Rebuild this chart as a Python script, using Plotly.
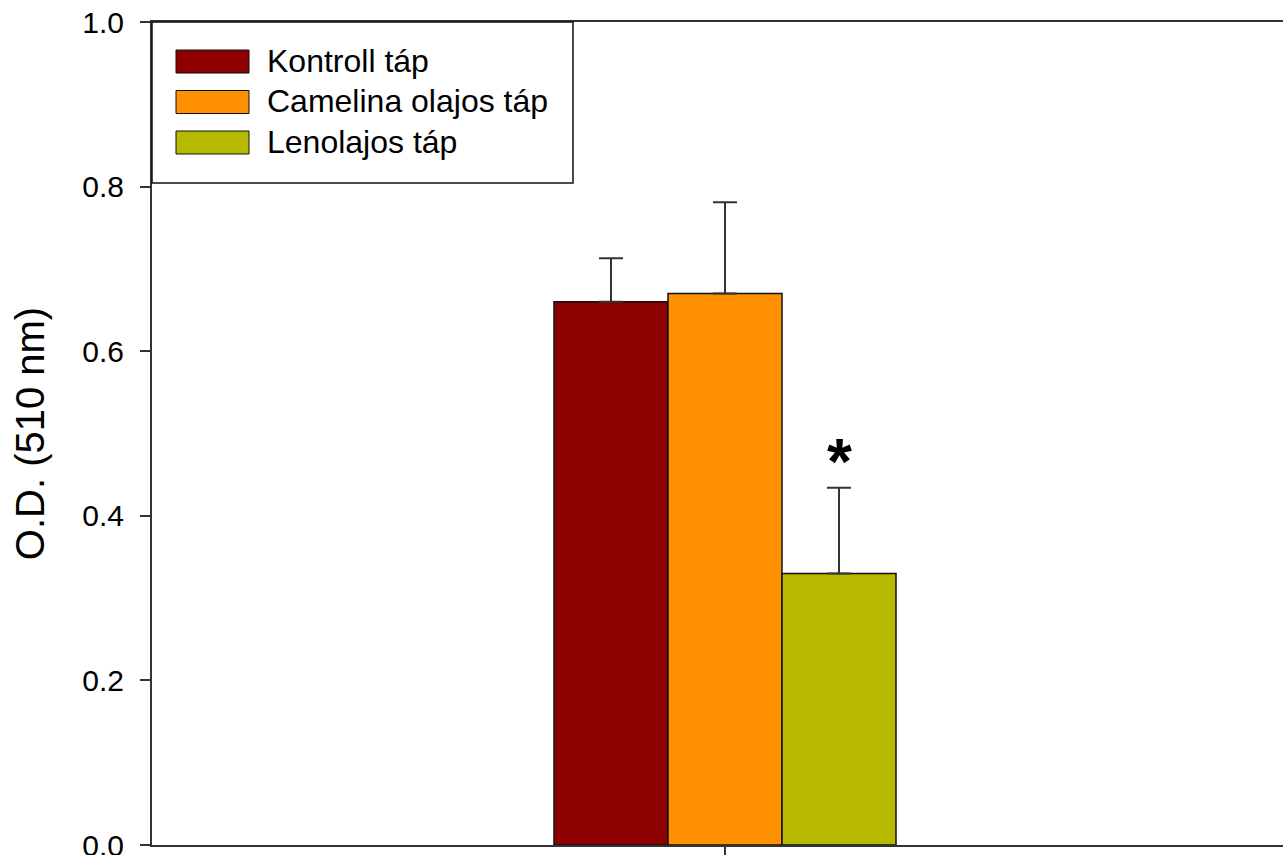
import plotly.graph_objects as go

# --- data -------------------------------------------------------------
series_names = ["Kontroll táp", "Camelina olajos táp", "Lenolajos táp"]
series_values = [0.66, 0.67, 0.33]
series_errors = [0.053, 0.111, 0.104]
series_colors = ["#8e0000", "#ff9100", "#b7b800"]
group_x = [0]
y_ticks = [0.0, 0.2, 0.4, 0.6, 0.8, 1.0]
significant = [False, False, True]

# --- layout geometry (pixels) -----------------------------------------
W, H = 1283, 855
M_L, M_R, M_T, M_B = 152, 0, 22, 10
PW, PH = W - M_L - M_R, H - M_T - M_B
BARGAP = 0.4
FONT = "Liberation Sans, Arial, sans-serif"

unit_px = 342 / (1 - BARGAP)       # pixels per x unit
x_range = [-(725 - M_L) / unit_px, (W - M_R - 725) / unit_px]


def px_x(p):
    return (p - M_L) / PW


def px_y(p):
    return (H - M_B - p) / PH


fig = go.Figure()
for name, val, err, col in zip(series_names, series_values, series_errors, series_colors):
    fig.add_trace(go.Bar(
        x=group_x, y=[val], name=name,
        marker=dict(color=col, line=dict(color="#111", width=1.5)),
        error_y=dict(type="data", symmetric=False, array=[err], arrayminus=[0],
                     color="#333", thickness=2, width=12),
        showlegend=False,
    ))

# significance marks above the error bars
n = len(series_names)
slot = (1 - BARGAP) / n
for i, (val, err, sig) in enumerate(zip(series_values, series_errors, significant)):
    if sig:
        fig.add_annotation(
            x=group_x[0] + (i - (n - 1) / 2) * slot, y=val + err,
            xref="x", yref="y", text="<b>*</b>", showarrow=False,
            yanchor="bottom", yshift=-12,
            font=dict(family=FONT, size=64, color="black"),
        )

# legend box with wide swatches
shapes = [dict(type="rect", xref="paper", yref="paper",
               x0=px_x(152), x1=px_x(573), y0=px_y(183), y1=px_y(22),
               line=dict(color="#111", width=1.5), fillcolor="white", layer="above")]
for i, (name, col) in enumerate(zip(series_names, series_colors)):
    cy = 61.5 + 40.5 * i
    shapes.append(dict(type="rect", xref="paper", yref="paper",
                       x0=px_x(176), x1=px_x(249), y0=px_y(cy + 11.5), y1=px_y(cy - 11.5),
                       line=dict(color="#111", width=1), fillcolor=col, layer="above"))
    fig.add_annotation(x=px_x(265), y=px_y(cy - 1), xref="paper", yref="paper",
                       text=name, showarrow=False, xanchor="left", yanchor="middle",
                       font=dict(family=FONT, size=32, color="black"))

fig.update_layout(
    width=W, height=H,
    margin=dict(l=M_L, r=M_R, t=M_T, b=M_B, pad=0),
    paper_bgcolor="white", plot_bgcolor="white",
    barmode="group", bargap=BARGAP, bargroupgap=0,
    shapes=shapes,
    font=dict(family=FONT, color="black"),
    xaxis=dict(range=x_range, tickvals=group_x, ticktext=[""], ticks="outside",
               ticklen=10, tickwidth=2, tickcolor="#333", showgrid=False,
               zeroline=False, showline=True, linecolor="#333", linewidth=2,
               mirror=True, automargin=False),
    yaxis=dict(range=[0, 1], tickvals=y_ticks, tickformat=".1f", ticks="outside",
               ticklen=10, tickwidth=2, tickcolor="#333", showgrid=False,
               zeroline=False, showline=True, linecolor="#333", linewidth=2,
               ticklabelstandoff=10, ticklabeloverflow="allow", automargin=False,
               tickfont=dict(family=FONT, size=30),
               title=dict(text="O.D. (510 nm)", standoff=25,
                          font=dict(family=FONT, size=40))),
)

fig.write_html("out.html")
